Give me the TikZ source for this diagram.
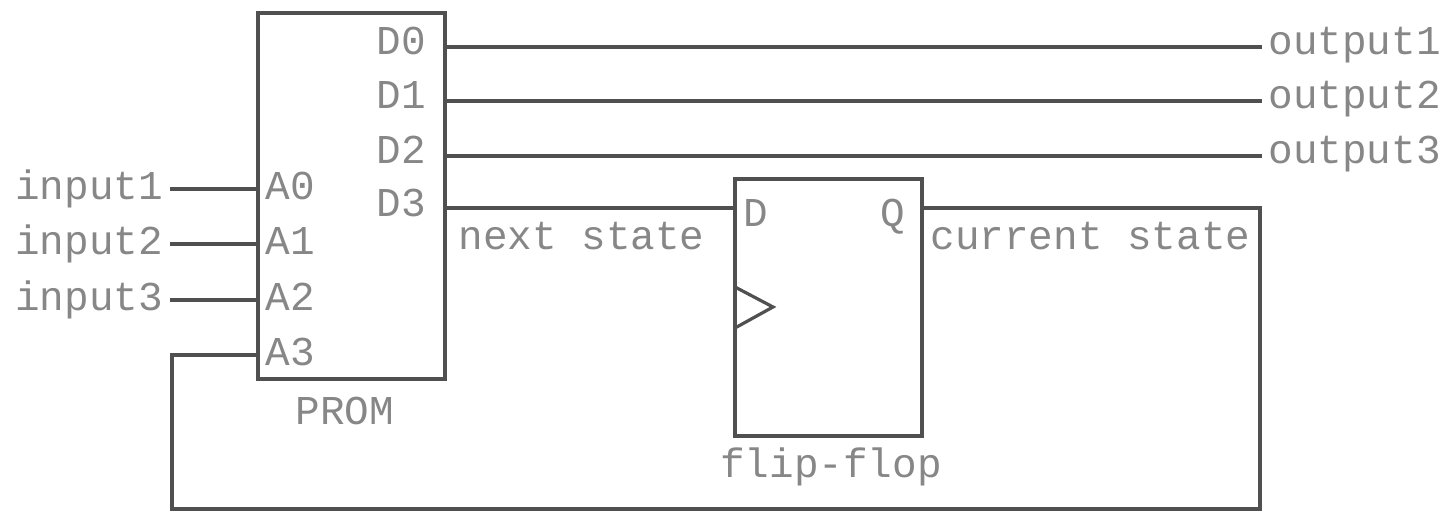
\documentclass[tikz,border=0pt]{standalone}
\usepackage{fontspec}
\setmonofont{Liberation Mono}
\definecolor{wirecol}{RGB}{80,80,80}
\definecolor{txtcol}{RGB}{135,135,135}
\begin{document}
\begin{tikzpicture}[x=0.5pt,y=-0.5pt,
  wire/.style={draw=wirecol, line width=1.6pt, line cap=rect},
  blk/.style={draw=wirecol, line width=1.6pt, inner sep=0pt},
  lbl/.style={font=\ttfamily\fontsize{20.5}{24}\selectfont, text=txtcol, inner sep=0pt, anchor=base west},
  lblc/.style={lbl, anchor=base}]
\useasboundingbox (0,0) rectangle (1445,512);
% blocks
\node[blk, minimum width=93.5pt, minimum height=183pt] (prom) at (351.5,196) {};
\node[blk, minimum width=93.5pt, minimum height=128.5pt] (ff) at (828.5,307.5) {};
% pins
\coordinate (a0) at (258,189);
\coordinate (a1) at (258,244);
\coordinate (a2) at (258,300);
\coordinate (a3) at (258,355);
\coordinate (d0) at (445,47);
\coordinate (d1) at (445,101);
\coordinate (d2) at (445,156);
\coordinate (d3) at (445,208);
\coordinate (i1) at (172,189);
\coordinate (i2) at (172,244);
\coordinate (i3) at (172,300);
\coordinate (o1) at (1260,47);
\coordinate (o2) at (1260,101);
\coordinate (o3) at (1260,156);
\coordinate (ffd) at (735,208);
\coordinate (ffq) at (922,208);
\coordinate (cr) at (1260,208);
\coordinate (cb) at (1260,509);
\coordinate (lb) at (172,509);
\coordinate (la) at (172,355);
% labels
\node[lbl] (ti1) at (15,200) {input1};
\node[lbl] (ti2) at (15,255) {input2};
\node[lbl] (ti3) at (15,311) {input3};
\node[lbl] (ta0) at (265,200) {A0};
\node[lbl] (ta1) at (265,255) {A1};
\node[lbl] (ta2) at (265,311) {A2};
\node[lbl] (ta3) at (265,366) {A3};
\node[lbl] (td0) at (376,55) {D0};
\node[lbl] (td1) at (376,109) {D1};
\node[lbl] (td2) at (376,164) {D2};
\node[lbl] (td3) at (376,217) {D3};
\node[lblc] (tprom) at (345,425) {PROM};
\node[lbl] (tns) at (458,250) {next state};
\node[lbl] (tcs) at (930,250) {current state};
\node[lbl] (tffd) at (743,227) {D};
\node[lbl] (tffq) at (880,227) {Q};
\node[lblc] (tff) at (831,478) {flip-flop};
\node[lbl] (to1) at (1268,55) {output1};
\node[lbl] (to2) at (1268,109) {output2};
\node[lbl] (to3) at (1268,164) {output3};
% wires
\draw[wire] (i1) -- (a0);
\draw[wire] (i2) -- (a1);
\draw[wire] (i3) -- (a2);
\draw[wire] (d0) -- (o1);
\draw[wire] (d1) -- (o2);
\draw[wire] (d2) -- (o3);
\draw[wire] (d3) -- (ffd);
\draw[wire] (ffq) -- (cr) -- (cb) -- (lb) -- (la) -- (a3);
% clock triangle
\draw[wire, line cap=butt] (735,287) -- (773,307) -- (735,328);
\end{tikzpicture}
\end{document}
